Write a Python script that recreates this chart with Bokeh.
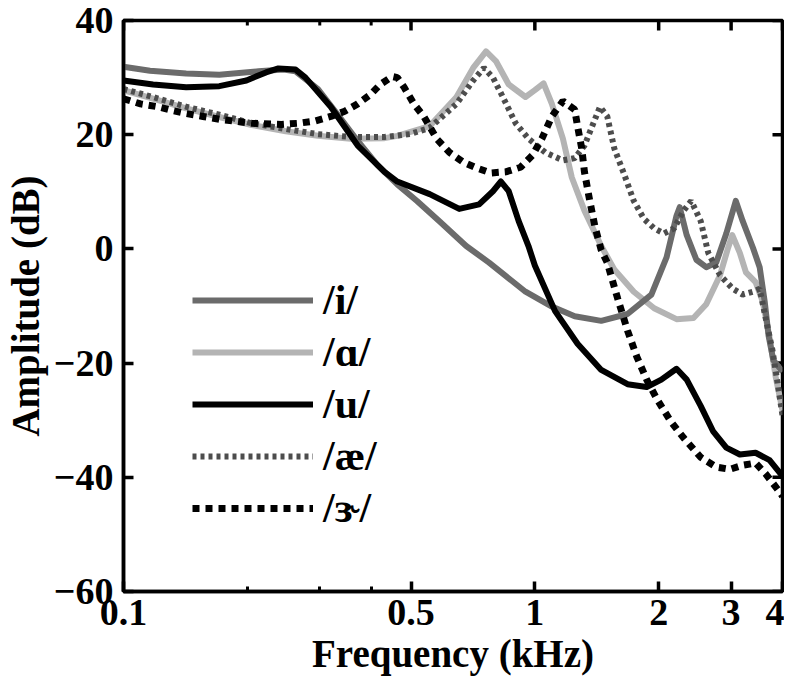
import math
from bokeh.plotting import figure
from bokeh.models import Range1d, FixedTicker, Legend, LegendItem
from bokeh.embed import file_html
from bokeh.resources import INLINE

# ---- data (frequency in kHz, amplitude in dB) ----
freq_i = [0.100, 0.116, 0.142, 0.171, 0.213, 0.245, 0.262, 0.297, 0.332, 0.371,
          0.414, 0.463, 0.517, 0.587, 0.681, 0.774, 0.949, 1.10, 1.25, 1.45,
          1.68, 1.92, 2.09, 2.21, 2.25, 2.34, 2.47, 2.61, 2.76, 2.92,
          3.08, 3.20, 3.39, 3.52, 3.62, 3.70, 3.80, 4.00]
amp_i = [31.9, 31.2, 30.7, 30.5, 31.1, 31.4, 31.1, 28.0, 23.5, 18.9,
         14.7, 11.3, 8.4, 4.8, 0.5, -2.4, -7.5, -10.1, -11.8, -12.6,
         -11.4, -8.0, -1.5, 5.8, 7.3, 2.4, -1.9, -3.2, -2.4, 2.7,
         8.4, 4.9, 0.2, -3.2, -9.2, -15.2, -19.5, -21.5]

freq_a = [0.100, 0.118, 0.142, 0.171, 0.205, 0.248, 0.297, 0.357, 0.431, 0.463,
          0.555, 0.645, 0.708, 0.761, 0.804, 0.864, 0.949, 1.00, 1.05, 1.10,
          1.17, 1.23, 1.32, 1.45, 1.56, 1.74, 1.95, 2.21, 2.43, 2.61,
          2.82, 2.95, 3.02, 3.15, 3.26, 3.44, 3.58, 3.72, 3.85, 4.00]
amp_a = [27.8, 26.3, 24.6, 23.1, 21.7, 20.6, 19.8, 19.3, 19.4, 19.8,
         21.5, 26.6, 31.7, 34.6, 32.9, 28.8, 26.6, 27.8, 29.0, 25.4,
         19.3, 12.5, 6.7, 0.5, -3.6, -7.5, -10.4, -12.3, -12.1, -9.7,
         -4.6, 0.2, 2.4, -0.7, -4.1, -5.8, -9.2, -15.5, -22.4, -28.3]

freq_u = [0.100, 0.118, 0.142, 0.171, 0.199, 0.222, 0.238, 0.262, 0.277, 0.319,
          0.371, 0.431, 0.463, 0.555, 0.655, 0.732, 0.791, 0.827, 0.864, 0.913,
          0.965, 1.00, 1.12, 1.27, 1.45, 1.68, 1.87, 2.03, 2.21, 2.34,
          2.53, 2.71, 2.92, 3.15, 3.44, 3.72, 4.00]
amp_u = [29.5, 28.8, 28.3, 28.5, 29.5, 30.9, 31.6, 31.4, 30.0, 24.9,
         18.1, 13.5, 11.8, 9.6, 7.0, 7.8, 10.1, 11.8, 10.1, 4.9,
         0.5, -2.9, -10.9, -16.6, -21.2, -23.7, -24.2, -22.9, -21.0, -22.9,
         -27.5, -31.9, -34.8, -36.0, -35.7, -37.0, -39.8]

freq_ae = [0.100, 0.118, 0.142, 0.171, 0.205, 0.248, 0.297, 0.357, 0.431, 0.497,
           0.555, 0.645, 0.708, 0.752, 0.791, 0.836, 0.898, 0.965, 1.06, 1.17,
           1.25, 1.32, 1.40, 1.44, 1.50, 1.56, 1.65, 1.74, 1.84, 1.95,
           2.06, 2.18, 2.30, 2.40, 2.53, 2.64, 2.82, 3.03, 3.20, 3.39,
           3.52, 3.64, 3.78, 3.89, 4.00]
amp_ae = [28.0, 26.6, 24.9, 23.5, 22.0, 21.0, 20.1, 19.6, 19.6, 20.1,
          21.2, 25.4, 29.5, 31.7, 30.0, 26.6, 22.0, 19.3, 16.9, 15.5,
          15.9, 18.1, 22.7, 24.9, 23.2, 17.6, 13.0, 8.4, 5.3, 3.6,
          2.7, 3.6, 6.7, 8.4, 4.9, -0.7, -4.6, -7.0, -8.0, -7.5,
          -7.0, -12.1, -17.7, -23.4, -29.2]

freq_er = [0.100, 0.110, 0.121, 0.132, 0.142, 0.156, 0.171, 0.205, 0.242, 0.266,
           0.292, 0.319, 0.345, 0.371, 0.398, 0.421, 0.450, 0.463, 0.481, 0.508,
           0.537, 0.577, 0.620, 0.670, 0.720, 0.782, 0.850, 0.923, 0.987, 1.04,
           1.10, 1.17, 1.25, 1.27, 1.30, 1.32, 1.36, 1.40, 1.45, 1.50,
           1.59, 1.68, 1.77, 1.87, 1.98, 2.14, 2.30, 2.53, 2.76, 2.98,
           3.20, 3.44, 3.64, 3.93, 4.00]
amp_er = [26.3, 25.4, 24.9, 24.2, 23.7, 23.2, 22.7, 22.0, 21.8, 22.0,
          22.4, 23.2, 24.1, 25.4, 27.0, 28.8, 30.2, 30.0, 28.3, 25.4,
          23.2, 19.3, 16.9, 15.2, 14.2, 13.3, 13.5, 14.3, 16.4, 19.3,
          23.2, 25.9, 24.4, 21.5, 17.6, 13.5, 8.4, 3.9, -0.2, -2.4,
          -8.7, -14.3, -18.9, -22.9, -26.3, -30.2, -33.1, -36.5, -38.2, -38.6,
          -37.9, -37.5, -39.4, -42.5, -43.3]

x_major = [0.1, 0.5, 1, 2, 3, 4]
x_minor = [0.2, 0.3, 0.4]
x_labels = {0.1: "0.1", 0.5: "0.5", 1: "1", 2: "2", 3: "3", 4: "4"}
y_ticks = [-60, -40, -20, 0, 20, 40]
y_labels = {-60: "\u221260", -40: "\u221240", -20: "\u221220", 0: "0", 20: "20", 40: "40"}
legend_labels = ["/i/", "/\u0251/", "/u/", "/\u00e6/", "/\u025d/"]
x_title = "Frequency (kHz)"
y_title = "Amplitude (dB)"

FONT = "Liberation Serif"

p = figure(width=784, height=677, x_axis_type="log",
           x_range=Range1d(x_major[0], x_major[-1]), y_range=Range1d(y_ticks[0], y_ticks[-1]),
           output_backend="svg", toolbar_location=None,
           min_border_left=115, min_border_right=2,
           min_border_top=20, min_border_bottom=10)
p.grid.visible = False
p.outline_line_color = "black"
p.outline_line_width = 3.5
p.background_fill_color = "white"
p.border_fill_color = "white"


def style_axis(ax):
    ax.axis_line_width = 3.5
    ax.axis_line_color = "black"
    ax.major_tick_in = 10
    ax.major_tick_out = 0
    ax.minor_tick_in = 5
    ax.minor_tick_out = 0
    ax.major_tick_line_width = 3.5
    ax.minor_tick_line_width = 3
    ax.major_tick_line_color = "black"
    ax.minor_tick_line_color = "black"
    ax.major_label_text_font = FONT
    ax.major_label_text_font_style = "bold"
    ax.major_label_text_color = "black"
    ax.major_label_text_font_size = "38px"
    ax.axis_label_text_font = FONT
    ax.axis_label_text_font_style = "bold"
    ax.axis_label_text_color = "black"
    ax.axis_label_text_font_size = "39px"


xb = p.xaxis[0]
xb.ticker = FixedTicker(ticks=x_major, minor_ticks=x_minor)
xb.major_label_overrides = x_labels
xb.axis_label = x_title
style_axis(xb)
xb.major_label_standoff = 8
xb.axis_label_standoff = 4

yl = p.yaxis[0]
yl.ticker = FixedTicker(ticks=y_ticks)
yl.major_label_overrides = y_labels
yl.axis_label = y_title
style_axis(yl)
yl.major_label_standoff = 10
yl.axis_label_standoff = 4

# mirrored ticks on top and right edges (pointing inwards)
p.ray(x=x_major, y=[y_ticks[-1]] * len(x_major), length=10, length_units="screen",
      angle=-math.pi / 2, line_color="black", line_width=3.5)
p.ray(x=x_minor, y=[y_ticks[-1]] * len(x_minor), length=5, length_units="screen",
      angle=-math.pi / 2, line_color="black", line_width=3)
p.ray(x=[x_major[-1]] * len(y_ticks), y=y_ticks, length=10, length_units="screen",
      angle=math.pi, line_color="black", line_width=3.5)

r_a = p.line(freq_a, amp_a, line_color="#b4b4b4", line_width=6, line_join="round")
r_i = p.line(freq_i, amp_i, line_color="#6b6b6b", line_width=6, line_join="round")
r_ae = p.line(freq_ae, amp_ae, line_color="#4d4d4d", line_width=6, line_dash="4 4")
r_u = p.line(freq_u, amp_u, line_color="black", line_width=6, line_join="round")
r_er = p.line(freq_er, amp_er, line_color="black", line_width=7, line_dash="7 6")

legend = Legend(items=[LegendItem(label=legend_labels[0], renderers=[r_i]),
                       LegendItem(label=legend_labels[1], renderers=[r_a]),
                       LegendItem(label=legend_labels[2], renderers=[r_u]),
                       LegendItem(label=legend_labels[3], renderers=[r_ae]),
                       LegendItem(label=legend_labels[4], renderers=[r_er])],
                location=(69, 59))
legend.border_line_color = None
legend.background_fill_alpha = 0
legend.padding = 0
legend.margin = 0
legend.spacing = 4
legend.glyph_width = 121
legend.glyph_height = 40
legend.label_height = 40
legend.label_standoff = 10
legend.label_text_font = FONT
legend.label_text_font_style = "bold"
legend.label_text_font_size = "42px"
legend.label_text_color = "black"
p.add_layout(legend, "center")

open("out.html", "w").write(file_html(p, INLINE))
